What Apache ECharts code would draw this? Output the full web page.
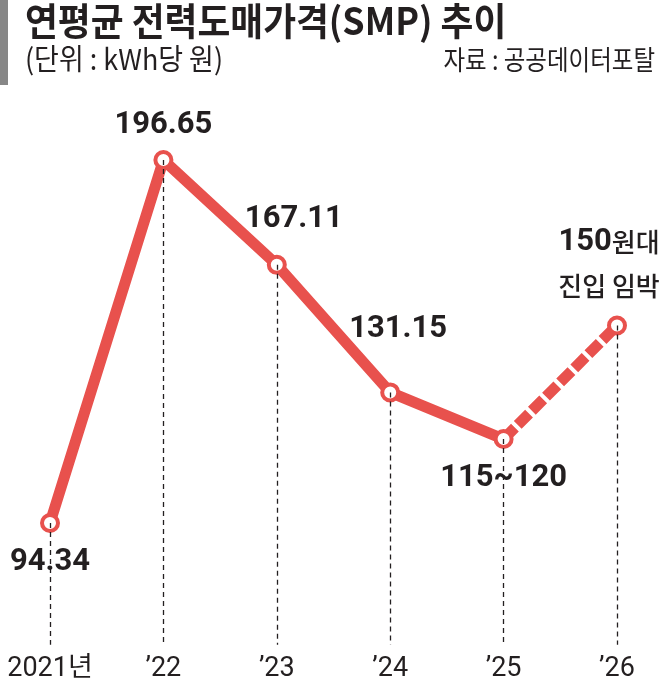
<!DOCTYPE html>
<html>
<head>
<meta charset="utf-8">
<style>
  html, body { margin: 0; padding: 0; background: #fff; }
  #chart { width: 667px; height: 691px; }
</style>
<script src="https://cdn.jsdelivr.net/npm/echarts@6/dist/echarts.min.js"></script>
</head>
<body>
<div id="chart"></div>
<script>
// 연도와 SMP (kWh당 원), 2025·2026은 전망치
const years = ['2021년', '’22', '’23', '’24', '’25', '’26'];
const smp = [94.34, 196.65, 167.11, 131.15, 118, 150];
const valueLabels = ['94.34', '196.65', '167.11', '131.15', '115~120', '{b|150}{m|원대}\n{m|진입 임박}'];
const solidCount = 5; // 앞 5개는 실선, 마지막 구간은 점선

const RED = '#e8514d';
const INK = '#231f20';
const NUM_FONT = "Roboto, 'Noto Sans CJK KR', sans-serif";
const KR_FONT = "'Noto Sans CJK KR', sans-serif";

// 점별 라벨 위치 (점 중심 기준)
const labelOffsets = [[0, 39], [0, -35], [17, -46], [8, -63], [0, 39], [-8, -61]];

function pointLabel(i) {
  return {
    show: true,
    position: 'inside',
    offset: labelOffsets[i],
    formatter: valueLabels[i],
    color: INK,
    fontFamily: NUM_FONT,
    fontWeight: 'bold',
    fontSize: 31,
    lineHeight: 44,
    align: 'center',
    rich: {
      b: { fontFamily: NUM_FONT, fontWeight: 'bold', fontSize: 31, color: INK, lineHeight: 44, align: 'center' },
      m: { fontFamily: KR_FONT, fontWeight: 500, fontSize: 26, color: INK, lineHeight: 44, align: 'center' }
    }
  };
}

const solidData = smp.map((v, i) => i < solidCount ? { value: v, label: pointLabel(i) } : null);
const dashData = smp.map((v, i) => {
  if (i < solidCount - 1) return null;
  if (i === solidCount - 1) return { value: v, symbol: 'none' };
  return { value: v, label: pointLabel(i) };
});
const guideLines = smp.map((v, i) => [{ coord: [i, v] }, { coord: [i, 60] }]);

const chart = echarts.init(document.getElementById('chart'));

const option = {
  animation: false,
  grid: { left: 50, right: 50, top: 77.2, bottom: 46.2 },
  xAxis: {
    type: 'category',
    data: years,
    boundaryGap: false,
    axisLine: { show: false },
    axisTick: { show: false },
    splitLine: { show: false },
    axisLabel: {
      color: INK,
      fontFamily: NUM_FONT,
      fontSize: 27,
      margin: 11,
      interval: 0
    }
  },
  yAxis: {
    type: 'value',
    min: 60,
    max: 220,
    show: false
  },
  graphic: [
    { type: 'rect', shape: { x: 0, y: 0, width: 8, height: 85 }, style: { fill: '#878787' } },
    {
      type: 'text', x: 25, y: 2, scaleX: 0.94,
      style: { text: '연평균 전력도매가격(SMP) 추이', fontFamily: KR_FONT, fontWeight: 'bold', fontSize: 38, fill: INK, align: 'left', verticalAlign: 'top' }
    },
    {
      type: 'text', x: 25, y: 44, scaleX: 0.93,
      style: { text: '(단위 : kWh당 원)', fontFamily: KR_FONT, fontSize: 29, fill: INK, align: 'left', verticalAlign: 'top' }
    },
    {
      type: 'text', x: 655, y: 46, scaleX: 0.87,
      style: { text: '자료 : 공공데이터포탈', fontFamily: KR_FONT, fontSize: 27, fill: INK, align: 'right', verticalAlign: 'top' }
    }
  ],
  series: [
    {
      // 점에서 바닥까지 내리는 점선
      type: 'line',
      data: smp,
      z: 1,
      silent: true,
      showSymbol: false,
      lineStyle: { opacity: 0 },
      markLine: {
        silent: true,
        symbol: ['none', 'none'],
        label: { show: false },
        lineStyle: { color: INK, width: 1.3, type: [5, 4] },
        emphasis: { disabled: true },
        data: guideLines
      }
    },
    {
      type: 'line',
      data: dashData,
      z: 2,
      silent: true,
      symbol: 'circle',
      symbolSize: 16,
      itemStyle: { color: '#fff', borderColor: RED, borderWidth: 4 },
      lineStyle: { color: RED, width: 11, type: [16, 4] }
    },
    {
      type: 'line',
      data: solidData,
      z: 3,
      silent: true,
      symbol: 'circle',
      symbolSize: 16,
      itemStyle: { color: '#fff', borderColor: RED, borderWidth: 4 },
      lineStyle: { color: RED, width: 11 }
    }
  ]
};

chart.setOption(option);

window.addEventListener('resize', () => {
  chart.resize();
});
</script>
</body>
</html>
